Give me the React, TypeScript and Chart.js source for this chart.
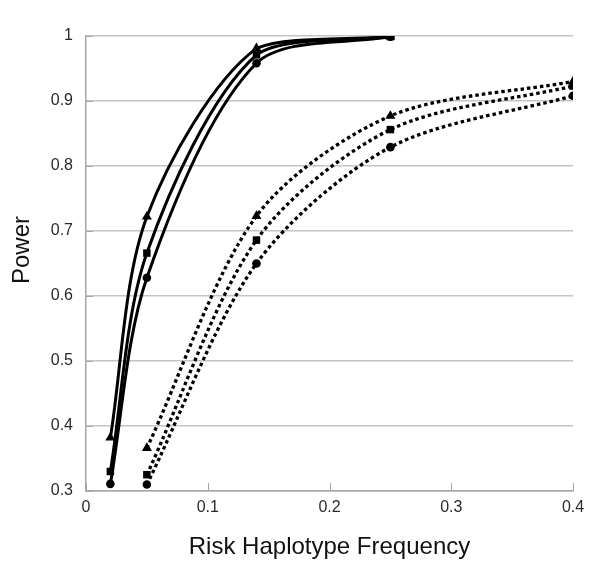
import React, { useEffect, useRef } from "react";
import { Chart, registerables } from "chart.js";

Chart.register(...registerables);

const solidX = [0.02, 0.05, 0.14, 0.25];
const dottedX = [0.05, 0.14, 0.25, 0.4];

const solidTriangle = [0.382, 0.722, 0.981, 0.999];
const solidSquare = [0.33, 0.666, 0.971, 0.999];
const solidCircle = [0.311, 0.628, 0.958, 0.999];

const dottedTriangle = [0.366, 0.723, 0.877, 0.93];
const dottedSquare = [0.325, 0.686, 0.856, 0.923];
const dottedCircle = [0.31, 0.65, 0.829, 0.908];

const xTicks = [0, 0.1, 0.2, 0.3, 0.4];
const xTickLabels = ["0", "0.1", "0.2", "0.3", "0.4"];
const yTicks = [0.3, 0.4, 0.5, 0.6, 0.7, 0.8, 0.9, 1];
const yTickLabels = ["0.3", "0.4", "0.5", "0.6", "0.7", "0.8", "0.9", "1"];

const xTitle = "Risk Haplotype Frequency";
const yTitle = "Power";

const FONT = "Arial, 'Liberation Sans', sans-serif";

function toPoints(xs: number[], ys: number[]) {
  return xs.map((x, i) => ({ x, y: ys[i] }));
}

function series(
  label: string,
  xs: number[],
  ys: number[],
  style: string,
  radius: number,
  dotted: boolean
) {
  return {
    label,
    data: toPoints(xs, ys),
    showLine: true,
    borderColor: "#000",
    backgroundColor: "#000",
    borderWidth: dotted ? 3.3 : 3,
    borderDash: dotted ? [3.5, 3] : [],
    tension: 0.3,
    pointStyle: style,
    pointRadius: radius,
    pointBorderWidth: 0,
    pointBackgroundColor: "#000",
  };
}

const innerTicks = {
  id: "innerTicks",
  beforeDatasetsDraw(chart: any) {
    const { ctx, scales } = chart;
    const x = scales.x;
    const y = scales.y;
    ctx.save();
    ctx.strokeStyle = "#a6a6a6";
    ctx.lineWidth = 1;
    x.ticks.forEach((t: any) => {
      const px = Math.round(x.getPixelForValue(t.value)) + 0.5;
      ctx.beginPath();
      ctx.moveTo(px, y.bottom);
      ctx.lineTo(px, y.bottom - 8);
      ctx.stroke();
    });
    y.ticks.forEach((t: any) => {
      const py = Math.round(y.getPixelForValue(t.value)) + 0.5;
      ctx.beginPath();
      ctx.moveTo(x.left, py);
      ctx.lineTo(x.left + 7, py);
      ctx.stroke();
    });
    ctx.restore();
  },
};

const axisTitles = {
  id: "axisTitles",
  afterDraw(chart: any) {
    const { ctx, chartArea } = chart;
    ctx.save();
    ctx.fillStyle = "#111";
    ctx.font = `24px ${FONT}`;
    ctx.textAlign = "center";
    ctx.textBaseline = "middle";
    ctx.fillText(xTitle, (chartArea.left + chartArea.right) / 2, chartArea.bottom + 56);
    ctx.translate(22, chartArea.top + 214);
    ctx.rotate(-Math.PI / 2);
    ctx.fillText(yTitle, 0, 0);
    ctx.restore();
  },
};

export default function App() {
  const ref = useRef<HTMLCanvasElement | null>(null);

  useEffect(() => {
    if (!ref.current) return;
    const chart = new Chart(ref.current, {
      type: "scatter",
      data: {
        datasets: [
          series("Solid triangle", solidX, solidTriangle, "triangle", 5.8, false),
          series("Solid square", solidX, solidSquare, "rect", 5.3, false),
          series("Solid circle", solidX, solidCircle, "circle", 4.3, false),
          series("Dotted triangle", dottedX, dottedTriangle, "triangle", 5.8, true),
          series("Dotted square", dottedX, dottedSquare, "rect", 5.3, true),
          series("Dotted circle", dottedX, dottedCircle, "circle", 4.3, true),
        ] as any,
      },
      options: {
        animation: false,
        responsive: false,
        layout: { padding: { top: 36, right: 28, left: 0, bottom: 0 } },
        plugins: {
          legend: { display: false },
          tooltip: { enabled: false },
        },
        scales: {
          x: {
            type: "linear",
            min: 0,
            max: 0.4,
            afterFit: (s: any) => {
              s.height = 78;
            },
            afterBuildTicks: (s: any) => {
              s.ticks = xTicks.map((v) => ({ value: v }));
            },
            ticks: {
              padding: 7,
              color: "#2a2a2a",
              font: { family: FONT, size: 16 },
              callback: (v: any) => {
                const i = xTicks.findIndex((t) => Math.abs(t - Number(v)) < 1e-9);
                return i >= 0 ? xTickLabels[i] : "";
              },
            },
            grid: { display: false, drawTicks: false },
            border: { display: true, color: "#a6a6a6", width: 1.5 },
            title: { display: false },
          },
          y: {
            type: "linear",
            min: 0.3,
            max: 1,
            afterFit: (s: any) => {
              s.width = 86;
            },
            afterBuildTicks: (s: any) => {
              s.ticks = yTicks.map((v) => ({ value: v }));
            },
            ticks: {
              padding: 13,
              color: "#2a2a2a",
              font: { family: FONT, size: 16 },
              callback: (v: any) => {
                const i = yTicks.findIndex((t) => Math.abs(t - Number(v)) < 1e-9);
                return i >= 0 ? yTickLabels[i] : "";
              },
            },
            grid: { display: true, drawTicks: false, color: "#c4c4c4", lineWidth: 1.5 },
            border: { display: true, color: "#a6a6a6", width: 1.5 },
            title: { display: false },
          },
        },
      },
      plugins: [innerTicks, axisTitles],
    });
    return () => chart.destroy();
  }, []);

  return (
    <div style={{ position: "fixed", left: 0, top: 0, width: 601, height: 569, background: "#fff" }}>
      <canvas ref={ref} width={601} height={569} style={{ display: "block" }} />
    </div>
  );
}
